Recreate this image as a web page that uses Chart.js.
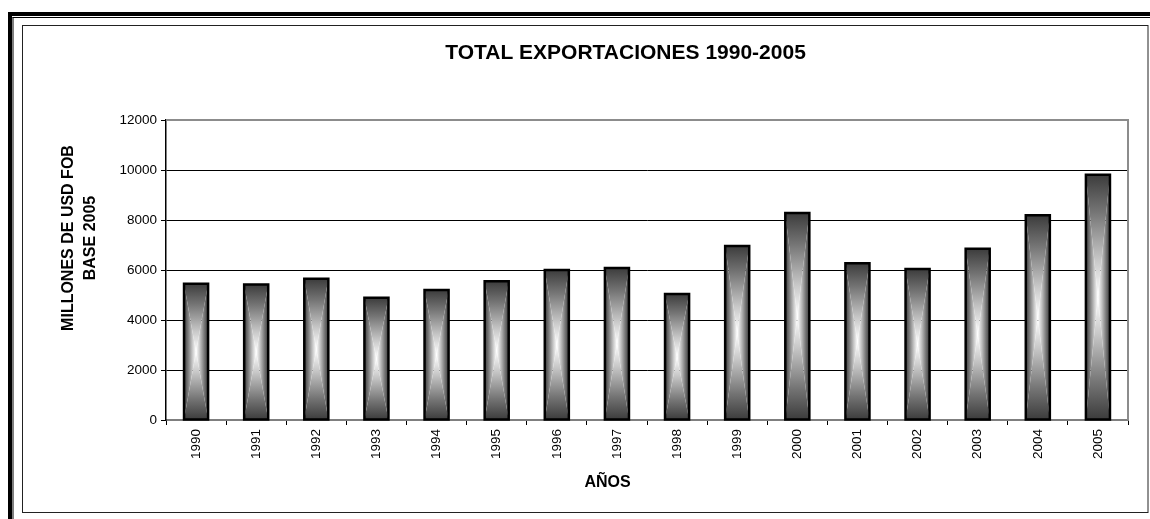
<!DOCTYPE html>
<html>
<head>
<meta charset="utf-8">
<script src="https://cdn.jsdelivr.net/npm/chart.js@4.4.1/dist/chart.umd.min.js"></script>
<style>
  html, body { margin: 0; padding: 0; background: #fff; }
  #wrap { width: 1150px; height: 519px; position: relative; }
</style>
</head>
<body>
<div id="wrap"><canvas id="chart"></canvas></div>
<script>
var years = ['1990', '1991', '1992', '1993', '1994', '1995', '1996', '1997',
             '1998', '1999', '2000', '2001', '2002', '2003', '2004', '2005'];
var exportaciones = [5450, 5420, 5650, 4890, 5200, 5550, 6000, 6080,
                     5040, 6960, 8280, 6270, 6040, 6850, 8190, 9810];
var chartTitle = 'TOTAL EXPORTACIONES 1990-2005';
var yTitle = ['MILLONES DE USD FOB', 'BASE 2005'];
var xTitle = 'AÑOS';

var FONT = "'Liberation Sans', Arial, sans-serif";

// frame around the whole chart (double line outside, thin line inside)
var framePlugin = {
    id: 'frame',
    beforeDraw: function(chart) {
        var c = chart.ctx;
        c.save();
        c.fillStyle = '#fff';
        c.fillRect(0, 0, chart.width, chart.height);
        c.fillStyle = '#000';
        c.fillRect(8, 12, 4, 519);
        c.fillRect(8, 12, 1150, 4);
        c.fillRect(12.5, 17, 1, 519);
        c.fillRect(12.5, 17, 1150, 1);
        c.strokeStyle = '#222';
        c.lineWidth = 1;
        c.strokeRect(22.5, 25.5, 1125.5, 487);
        c.restore();
    }
};

// gradient bars: dark edges, white centre (rectangular gradient)
function shade(c, g) {
    g.addColorStop(0, '#3c3c3c');
    g.addColorStop(0.3, '#747474');
    g.addColorStop(0.7, '#c8c8c8');
    g.addColorStop(1, '#ffffff');
    return g;
}

var barPlugin = {
    id: 'gradBars',
    afterDatasetsDraw: function(chart) {
        var c = chart.ctx;
        var meta = chart.getDatasetMeta(0);
        c.save();
        meta.data.forEach(function(el) {
            var p = el.getProps(['x', 'y', 'base', 'width'], true);
            var l = p.x - p.width / 2, r = p.x + p.width / 2;
            var t = Math.min(p.y, p.base), b = Math.max(p.y, p.base);
            var cx = p.x, cy = (t + b) / 2;

            c.fillStyle = shade(c, c.createLinearGradient(l, 0, cx, 0));
            c.beginPath(); c.moveTo(l, t); c.lineTo(cx, cy); c.lineTo(l, b); c.closePath(); c.fill();
            c.fillStyle = shade(c, c.createLinearGradient(r, 0, cx, 0));
            c.beginPath(); c.moveTo(r, t); c.lineTo(cx, cy); c.lineTo(r, b); c.closePath(); c.fill();
            c.fillStyle = shade(c, c.createLinearGradient(0, t, 0, cy));
            c.beginPath(); c.moveTo(l, t); c.lineTo(r, t); c.lineTo(cx, cy); c.closePath(); c.fill();
            c.fillStyle = shade(c, c.createLinearGradient(0, b, 0, cy));
            c.beginPath(); c.moveTo(l, b); c.lineTo(r, b); c.lineTo(cx, cy); c.closePath(); c.fill();

            c.strokeStyle = '#000';
            c.lineWidth = 2.5;
            c.strokeRect(l, t, r - l, b - t);
        });
        c.restore();
    }
};

// plot area border (top and right in grey) plus the texts
var textPlugin = {
    id: 'texts',
    afterDraw: function(chart) {
        var c = chart.ctx, a = chart.chartArea;
        c.save();
        c.strokeStyle = '#8c8c8c';
        c.lineWidth = 2;
        c.beginPath();
        c.moveTo(a.left, a.top);
        c.lineTo(a.right, a.top);
        c.lineTo(a.right, a.bottom);
        c.stroke();

        c.fillStyle = '#000';
        c.textAlign = 'center';
        c.textBaseline = 'middle';
        c.font = 'bold 21px ' + FONT;
        c.fillText(chartTitle, 625.5, 53);

        c.font = 'bold 16px ' + FONT;
        c.fillText(xTitle, 607.5, 483);

        c.translate(69, 238);
        c.rotate(-Math.PI / 2);
        c.fillText(yTitle[0], 0, 0);
        c.fillText(yTitle[1], 0, 21.8);
        c.restore();
    }
};

var ctx = document.getElementById('chart').getContext('2d');
var myChart = new Chart(ctx, {
    type: 'bar',
    data: {
        labels: years,
        datasets: [{
            label: 'Exportaciones',
            data: exportaciones,
            backgroundColor: 'rgba(0,0,0,0)',
            borderWidth: 0,
            barPercentage: 0.4,
            categoryPercentage: 1
        }]
    },
    options: {
        responsive: true,
        maintainAspectRatio: false,
        animation: false,
        layout: { padding: { top: 120, right: 22, bottom: 0, left: 0 } },
        plugins: {
            legend: { display: false },
            title: { display: false },
            tooltip: { enabled: false }
        },
        scales: {
            x: {
                offset: true,
                afterFit: function(s) { s.height = 99; },
                grid: {
                    offset: true,
                    drawOnChartArea: false,
                    color: '#000',
                    tickLength: 5
                },
                border: { color: '#7f7f7f', width: 2 },
                ticks: {
                    color: '#000',
                    font: { family: FONT, size: 13.5 },
                    minRotation: 90,
                    maxRotation: 90,
                    padding: 4
                }
            },
            y: {
                min: 0,
                max: 12000,
                afterFit: function(s) { s.width = 166; },
                grid: {
                    color: '#000',
                    lineWidth: 1,
                    tickLength: 5
                },
                border: { color: '#000', width: 1.5 },
                ticks: {
                    stepSize: 2000,
                    color: '#000',
                    font: { family: FONT, size: 13.5 },
                    padding: 4,
                    callback: function(v) { return String(v); }
                }
            }
        }
    },
    plugins: [framePlugin, barPlugin, textPlugin]
});
</script>
</body>
</html>
